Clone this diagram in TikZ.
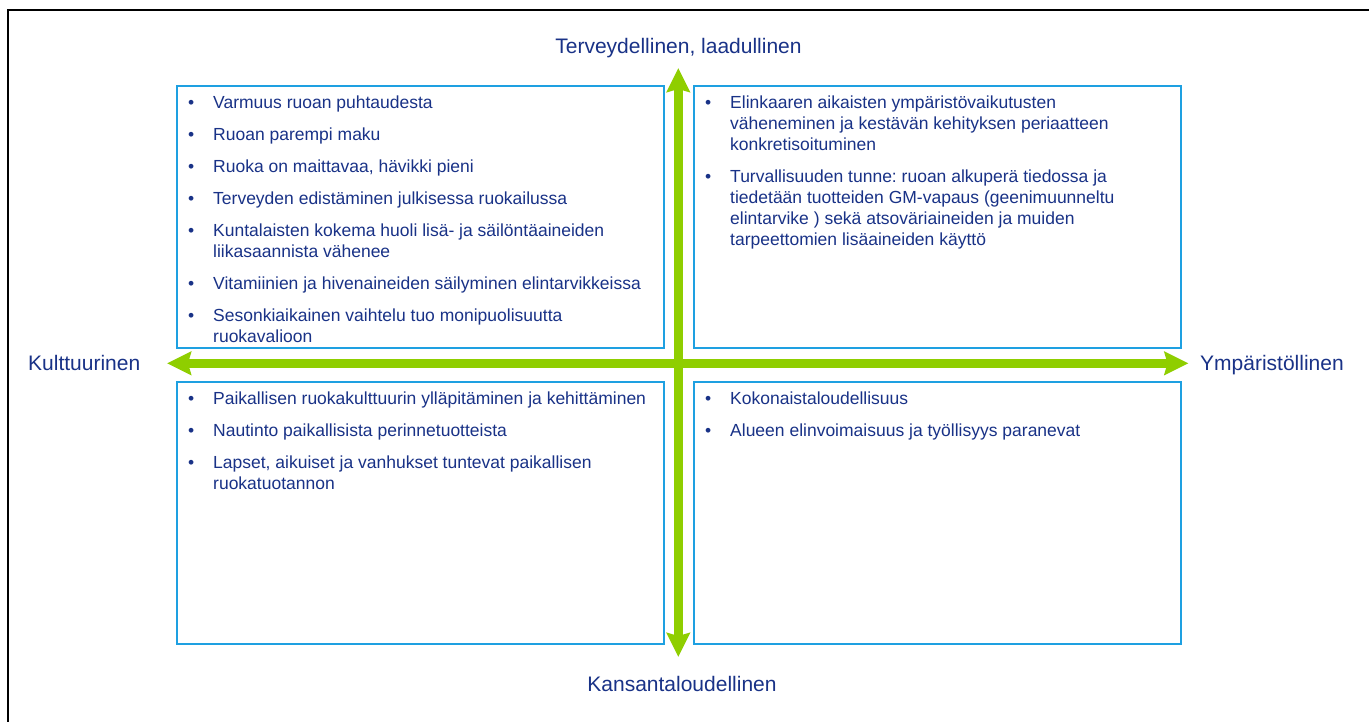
\documentclass[tikz,border=0pt]{standalone}
\usepackage{fontspec}
\setmainfont{Liberation Sans}
\usetikzlibrary{arrows.meta}
\definecolor{boxblue}{RGB}{30,160,225}
\definecolor{navy}{RGB}{25,50,135}
\definecolor{axisgreen}{RGB}{143,206,0}
\frenchspacing
\newcommand\bitem[1]{\par\hangindent=25pt\hangafter=1\noindent\makebox[25pt][l]{•}#1}
\newcommand\itembox[1]{\parbox[t]{470pt}{\raggedright\fontsize{17.5}{21}\selectfont\setlength{\parskip}{11pt}#1}}
\tikzset{
  quad/.style={draw=boxblue, line width=1.8pt, inner sep=0pt, anchor=north west},
  items/.style={anchor=base west, inner sep=0pt, text=navy},
  lab/.style={inner sep=0pt, text=navy, font=\fontsize{21}{25}\selectfont},
  axisarrow/.style={draw=axisgreen, line width=9pt,
    {Stealth[length=24pt,width=23pt,inset=3pt]}-{Stealth[length=24pt,width=23pt,inset=3pt]}},
}
\begin{document}
\begin{tikzpicture}[x=1pt,y=-1pt]
\useasboundingbox (0,0) rectangle (1369,722);
\fill[white] (0,0) rectangle (1369,722);
\draw[line width=1.2pt] (8,722) -- (8,10) -- (1369,10);

\node (tl) [quad, minimum width=487pt, minimum height=262pt] at (176,85) {};
\node (tr) [quad, minimum width=487pt, minimum height=262pt] at (692.7,85) {};
\node (bl) [quad, minimum width=487pt, minimum height=262.6pt] at (176,380.7) {};
\node (br) [quad, minimum width=487pt, minimum height=262.6pt] at (692.7,380.7) {};

\coordinate (top) at (678.3,68);
\coordinate (bot) at (678.3,657);
\coordinate (lft) at (167,363.3);
\coordinate (rgt) at (1188.5,363.3);
\draw[axisarrow] (lft) -- (rgt);
\draw[axisarrow] (top) -- (bot);

\node (tltext) [items] at (188,108.3) {\itembox{%
\bitem{Varmuus ruoan puhtaudesta}
\bitem{Ruoan parempi maku}
\bitem{Ruoka on maittavaa, hävikki pieni}
\bitem{Terveyden edistäminen julkisessa ruokailussa}
\bitem{Kuntalaisten kokema huoli lisä- ja säilöntäaineiden\newline liikasaannista vähenee}
\bitem{Vitamiinien ja hivenaineiden säilyminen elintarvikkeissa}
\bitem{Sesonkiaikainen vaihtelu tuo monipuolisuutta\newline ruokavalioon}}};

\node (trtext) [items] at (705,108.3) {\itembox{%
\bitem{Elinkaaren aikaisten ympäristövaikutusten\newline väheneminen ja kestävän kehityksen periaatteen\newline konkretisoituminen}
\bitem{Turvallisuuden tunne: ruoan alkuperä tiedossa ja\newline tiedetään tuotteiden GM-vapaus (geenimuunneltu\newline elintarvike ) sekä atsoväriaineiden ja muiden\newline tarpeettomien lisäaineiden käyttö}}};

\node (bltext) [items] at (188,404) {\itembox{%
\bitem{Paikallisen ruokakulttuurin ylläpitäminen ja kehittäminen}
\bitem{Nautinto paikallisista perinnetuotteista}
\bitem{Lapset, aikuiset ja vanhukset tuntevat paikallisen\newline ruokatuotannon}}};

\node (brtext) [items] at (705,404) {\itembox{%
\bitem{Kokonaistaloudellisuus}
\bitem{Alueen elinvoimaisuus ja työllisyys paranevat}}};

\node (north) [lab, anchor=base] at (678.5,53.5) {Terveydellinen, laadullinen};
\node (south) [lab, anchor=base] at (682,691.7) {Kansantaloudellinen};
\node (west) [lab, anchor=base west] at (28,370) {Kulttuurinen};
\node (east) [lab, anchor=base west] at (1200,370) {Ympäristöllinen};
\end{tikzpicture}
\end{document}
